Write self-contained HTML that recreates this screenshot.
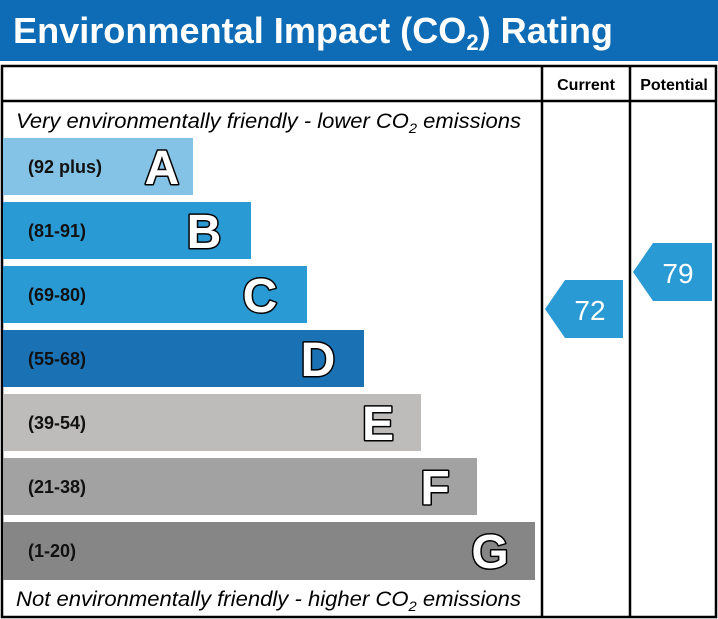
<!DOCTYPE html>
<html><head><style>body{margin:0;background:#fff}svg{display:block}</style></head><body>
<svg width="718" height="619" xmlns="http://www.w3.org/2000/svg" font-family="Liberation Sans, sans-serif">
<rect x="0" y="0" width="718" height="61" fill="#0d6cb5"/>
<text x="13" y="43" font-size="36" font-weight="bold" fill="#fff" textLength="600" lengthAdjust="spacingAndGlyphs">Environmental Impact (CO<tspan font-size="22" dy="7">2</tspan><tspan dy="-7">) Rating</tspan></text>
<rect x="2" y="66" width="714" height="551" fill="none" stroke="#000" stroke-width="2.5"/>
<line x1="2" y1="101" x2="716" y2="101" stroke="#000" stroke-width="2.5"/>
<line x1="542" y1="66" x2="542" y2="617" stroke="#000" stroke-width="2.5"/>
<line x1="630" y1="66" x2="630" y2="617" stroke="#000" stroke-width="2.5"/>
<text x="586" y="90" font-size="16" font-weight="bold" text-anchor="middle">Current</text>
<text x="674" y="90" font-size="16" font-weight="bold" text-anchor="middle">Potential</text>
<text x="16" y="128" font-size="21" font-style="italic" textLength="505" lengthAdjust="spacingAndGlyphs">Very environmentally friendly - lower CO<tspan font-size="14" dy="5">2</tspan><tspan dy="-5"> emissions</tspan></text>
<text x="16" y="606" font-size="21" font-style="italic" textLength="505" lengthAdjust="spacingAndGlyphs">Not environmentally friendly - higher CO<tspan font-size="14" dy="5">2</tspan><tspan dy="-5"> emissions</tspan></text>
<g font-weight="bold">
<rect x="3" y="138" width="190" height="57" fill="#84c3e5"/>
<rect x="3" y="202" width="248" height="57" fill="#2a9ad4"/>
<rect x="3" y="266" width="304" height="57" fill="#2a9ad4"/>
<rect x="3" y="330" width="361" height="57" fill="#1a72b5"/>
<rect x="3" y="394" width="418" height="57" fill="#bdbcbb"/>
<rect x="3" y="458" width="474" height="57" fill="#a2a2a2"/>
<rect x="3" y="522" width="532" height="58" fill="#868686"/>
<g font-size="18" fill="#111">
<text x="28" y="173">(92 plus)</text>
<text x="28" y="237">(81-91)</text>
<text x="28" y="301">(69-80)</text>
<text x="28" y="365">(55-68)</text>
<text x="28" y="429">(39-54)</text>
<text x="28" y="493">(21-38)</text>
<text x="28" y="557">(1-20)</text>
</g>
<g font-size="48" fill="#fff" stroke="#000" stroke-width="3" paint-order="stroke" stroke-linejoin="round" text-anchor="middle">
<text x="162" y="184">A</text>
<text x="204" y="248">B</text>
<text x="260" y="312">C</text>
<text x="318" y="376">D</text>
<text x="378" y="440">E</text>
<text x="435" y="504">F</text>
<text x="490" y="568">G</text>
</g>
</g>
<polygon points="545,309 565,280 623,280 623,338 565,338" fill="#2a9ad4"/>
<text x="590" y="320" font-size="28" fill="#fff" text-anchor="middle">72</text>
<polygon points="633,272 653,243 712,243 712,301 653,301" fill="#2a9ad4"/>
<text x="678" y="283" font-size="28" fill="#fff" text-anchor="middle">79</text>
</svg>
</body></html>
